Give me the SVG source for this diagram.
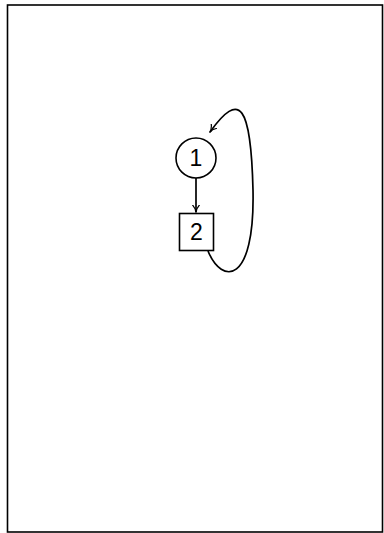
<svg xmlns="http://www.w3.org/2000/svg" width="384" height="533" viewBox="0 0 384 533">
<style>
.n{fill:#fff;stroke:#000;stroke-width:1.6}
.t{font-family:"Liberation Sans",Arial,sans-serif;font-size:23px;fill:#000;text-anchor:middle}
.e{fill:none;stroke:#000;stroke-width:1.7}
</style>
<defs>
<marker id="a" viewBox="0 0 10 10" refX="9" refY="5" markerWidth="8" markerHeight="8" orient="auto" markerUnits="userSpaceOnUse">
<path d="M0,0.5 Q5,5 10,5 Q5,5 0,9.5" fill="none" stroke="#000" stroke-width="1.5"/>
</marker>
</defs>
<rect x="7.5" y="5" width="375" height="527" fill="#fff" stroke="#000" stroke-width="1.6"/>
<g id="edges">
<path class="e" d="M196,178 L196,212" marker-end="url(#a)"/>
<path class="e" d="M208,251 C222,285 255,285 253,190 C251,105 240,90 210,132" marker-end="url(#a)"/>
</g>
<g id="node1">
<circle class="n" cx="196" cy="158" r="20"/>
<text class="t" x="196" y="166">1</text>
</g>
<g id="node2">
<rect class="n" x="179.5" y="213.5" width="34" height="37"/>
<text class="t" x="196.5" y="240">2</text>
</g>
</svg>
